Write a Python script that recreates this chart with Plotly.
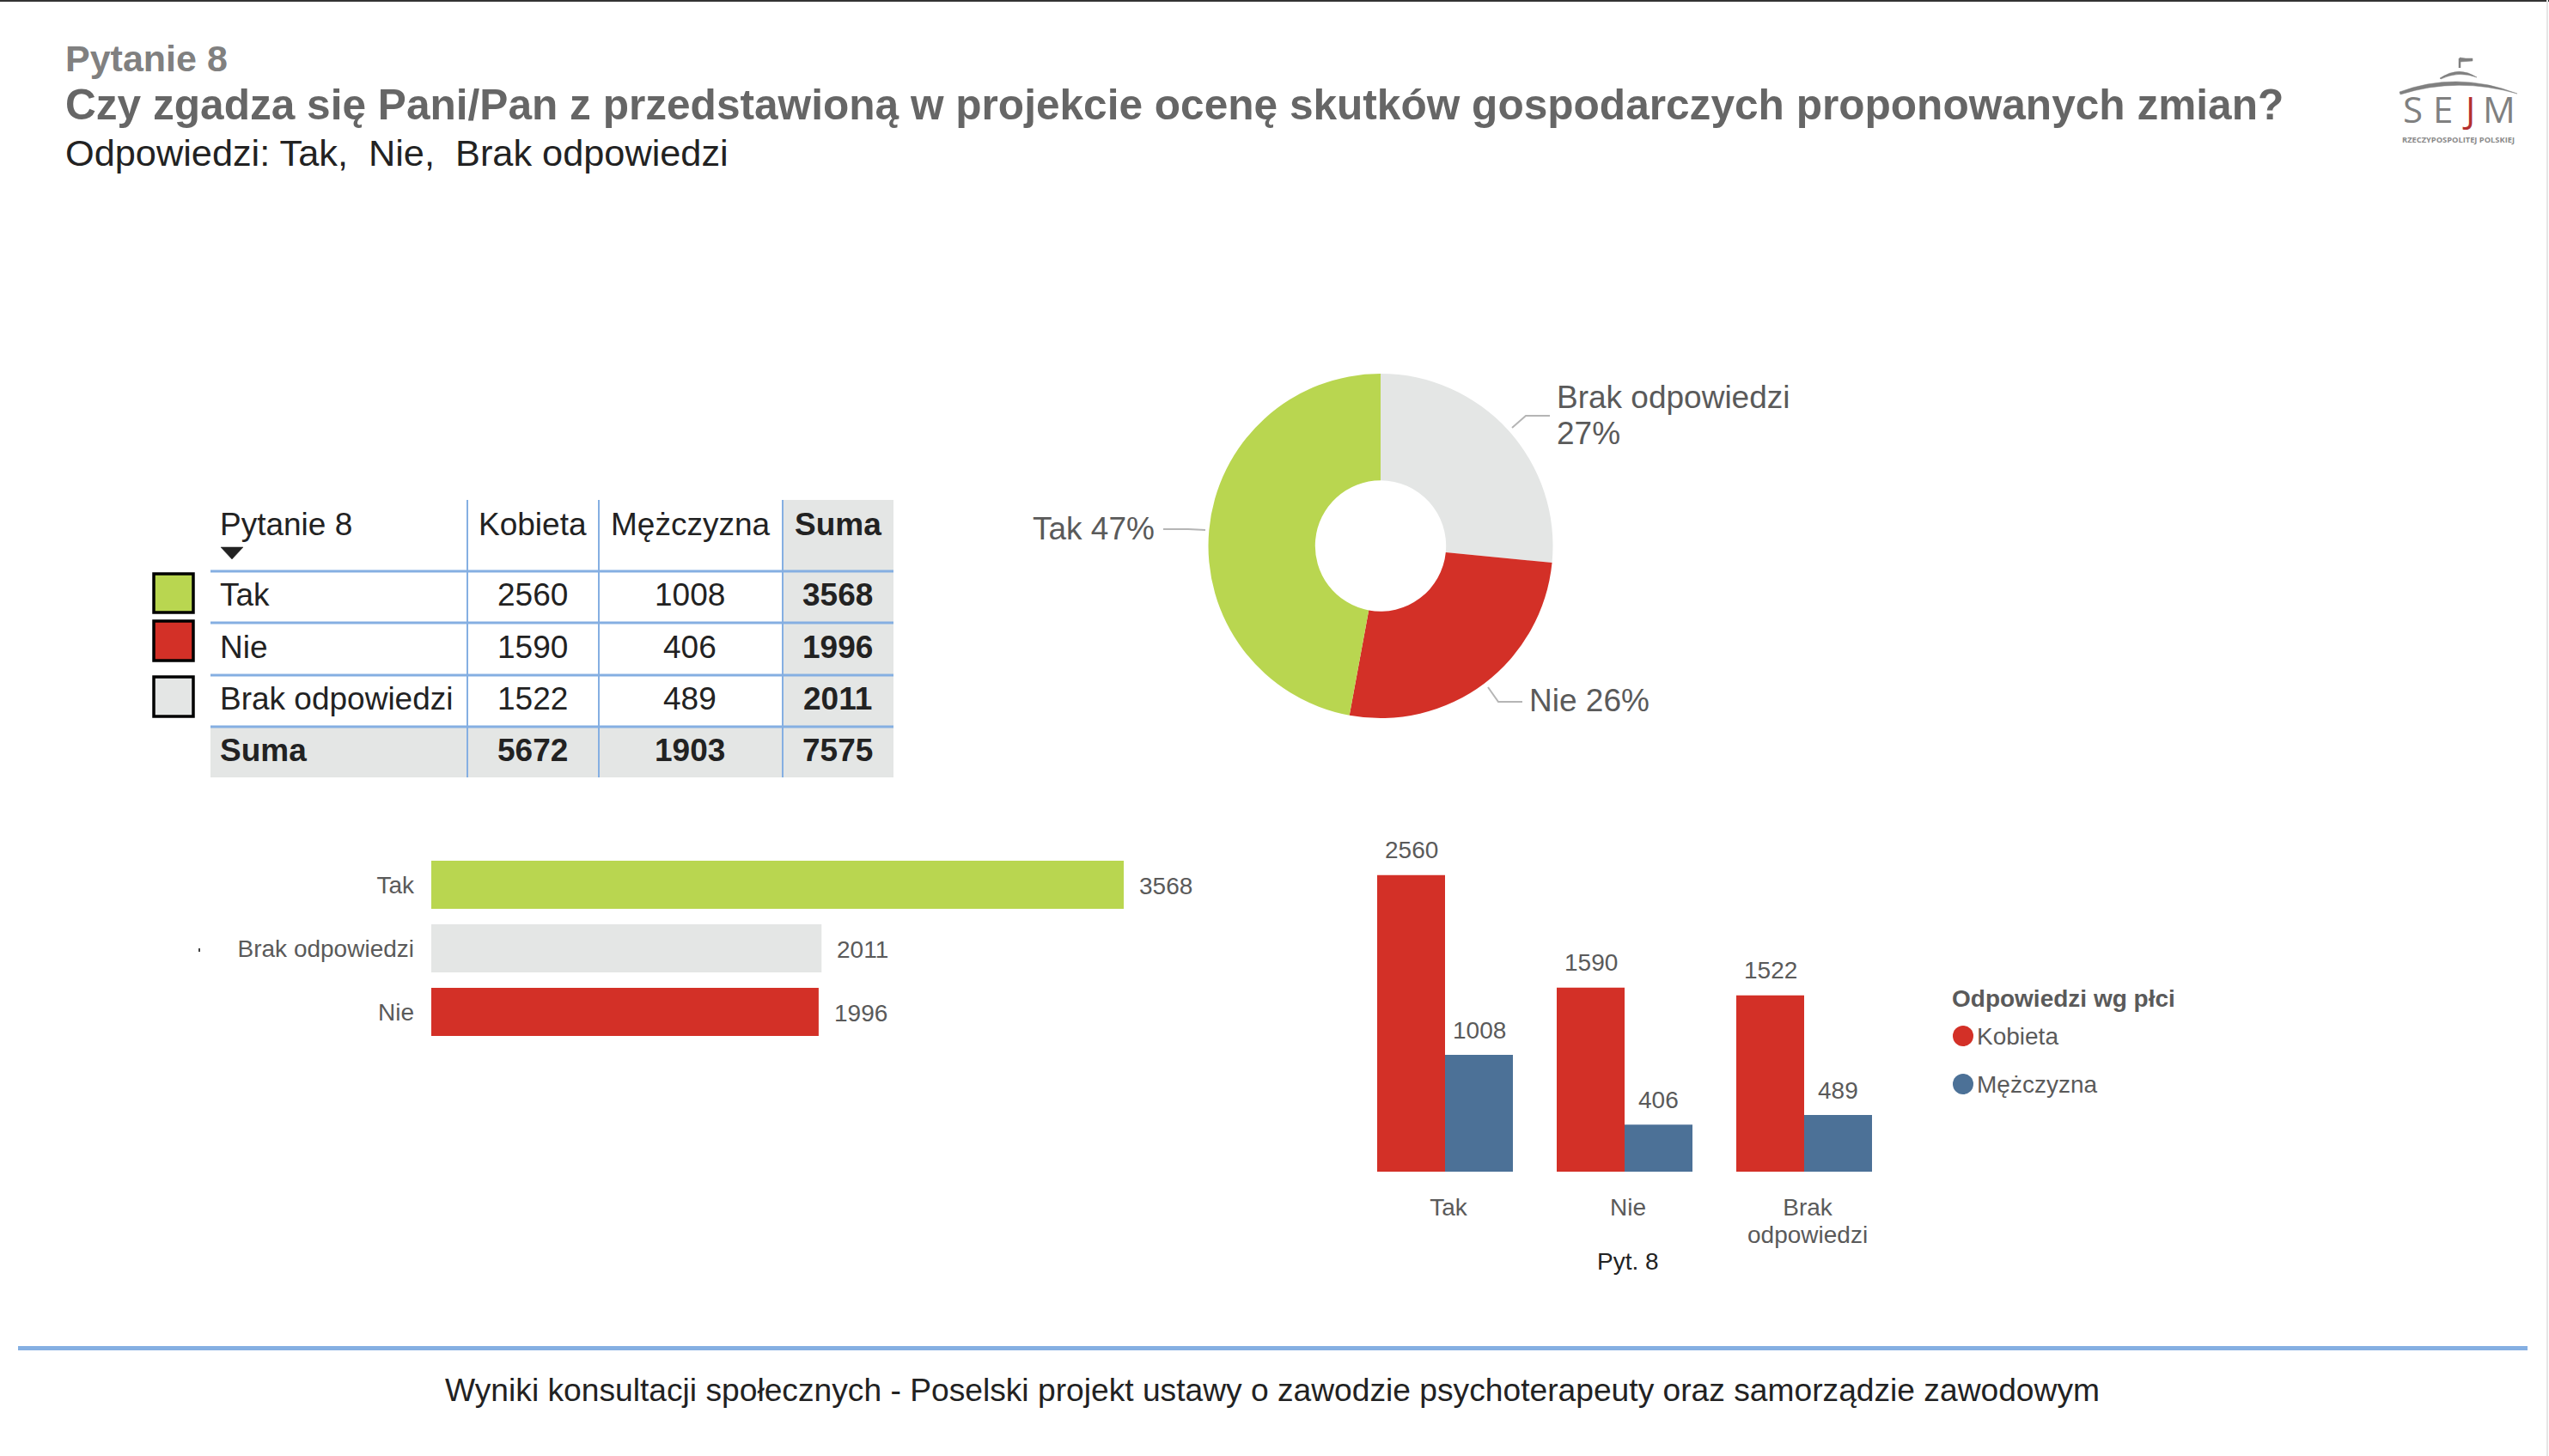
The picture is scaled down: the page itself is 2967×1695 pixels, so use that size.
import plotly.graph_objects as go

W, H = 2967, 1695
FONT = "Liberation Sans"

# ---- data ----
answers = ["Tak", "Nie", "Brak odpowiedzi"]
kobieta = [2560, 1590, 1522]
mezczyzna = [1008, 406, 489]
suma = [3568, 1996, 2011]
suma_row = [5672, 1903, 7575]

pie_labels = ["Brak odpowiedzi", "Nie", "Tak"]
pie_values = [2011, 1996, 3568]

hbar_labels = ["Tak", "Brak odpowiedzi", "Nie"]
hbar_values = [3568, 2011, 1996]

group_ticktext = ["Tak", "Nie", "Brak"]

GREEN, RED, GREY, BLUE = "#B9D650", "#D33027", "#E4E6E5", "#4C7197"
LINE = "#85AFE2"
TXT = "#5A5A5A"
DARK = "#222222"


def px(x):
    return x / W


def py(y):
    return 1 - y / H


annotations = []
shapes = []


def text(x, y, s, size, color=DARK, anchor="left", bold=False, family=FONT):
    annotations.append(dict(
        x=px(x), y=py(y), xref="paper", yref="paper", text=f"<b>{s}</b>" if bold else s,
        showarrow=False, xanchor=anchor, yanchor="middle", borderpad=0, borderwidth=0,
        font=dict(family=family, size=size, color=color)))


def rect(x0, y0, x1, y1, fill, line=None, lw=0):
    shapes.append(dict(type="rect", xref="paper", yref="paper",
                       x0=px(x0), x1=px(x1), y0=py(y0), y1=py(y1), fillcolor=fill,
                       line=dict(color=line or fill, width=lw), layer="below"))


def seg(pts, color, width):
    d = "M " + " L ".join(f"{px(a):.6f},{py(b):.6f}" for a, b in pts)
    shapes.append(dict(type="path", xref="paper", yref="paper", path=d,
                       line=dict(color=color, width=width)))


def fillpath(d_pts, color):
    # d_pts: list of (cmd, [(x, y), ...])
    parts = []
    for cmd, pts in d_pts:
        parts.append(cmd + " " + " ".join(f"{px(a):.6f},{py(b):.6f}" for a, b in pts))
    shapes.append(dict(type="path", xref="paper", yref="paper", path=" ".join(parts) + " Z",
                       fillcolor=color, line=dict(color=color, width=0.5)))


# ---- page furniture ----
rect(0, 0, W, 2, "#333333")
rect(2964, 0, 2966, H, "#E6E6E6")
rect(21, 1567, 2942, 1572, LINE)

text(76, 68, "Pytanie 8", 43, "#808080", bold=True)
text(76, 122, "Czy zgadza się Pani/Pan z przedstawioną w projekcie ocenę skutków gospodarczych proponowanych zmian?",
     49.6, "#666666", bold=True)
text(76, 178, "Odpowiedzi: Tak,  Nie,  Brak odpowiedzi", 43.3, DARK)
text(1481, 1618, "Wyniki konsultacji społecznych - Poselski projekt ustawy o zawodzie psychoterapeuty oraz samorządzie zawodowym",
     37.2, DARK, anchor="center")

# ---- logo ----
fillpath([("M", [(2793, 107)]), ("Q", [(2860, 82), (2930, 109)]), ("Q", [(2860, 89), (2794, 110)])], "#808080")
fillpath([("M", [(2840, 91)]), ("Q", [(2862, 76), (2883, 90)]), ("Q", [(2862, 82), (2841, 92)])], "#808080")
seg([(2863, 79), (2863, 68)], "#808080", 2.5)
fillpath([("M", [(2863, 67)]), ("L", [(2870, 68)]), ("L", [(2878, 68)]), ("L", [(2878, 71)]), ("L", [(2863, 72)])], "#808080")
for lx, ch, col in [(2808, "S", "#808080"), (2843, "E", "#808080"), (2873, "J", "#B53030"), (2909, "M", "#808080")]:
    text(lx, 126, ch, 42, col, anchor="center", family="Open Sans")
text(2861, 163, "RZECZYPOSPOLITEJ POLSKIEJ", 9.3, "#8A8A8A", anchor="center", bold=True, family="Open Sans")

# ---- table ----
col_x = [245, 544, 697, 911, 1040]
row_y = [582, 665, 725, 786, 846, 905]
col_c = [620, 803, 975]
row_c = [693, 753, 813, 873]
rect(col_x[3], row_y[0], col_x[4], row_y[5], GREY)
rect(col_x[0], row_y[4], col_x[4], row_y[5], GREY)
for yy in row_y[1:5]:
    rect(col_x[0], yy - 1.5, col_x[4], yy + 1.5, LINE)
for xx in col_x[1:4]:
    rect(xx - 1, row_y[0], xx + 1, row_y[5], LINE)

text(256, 610, "Pytanie 8", 37)
text(col_c[0], 610, "Kobieta", 37, anchor="center")
text(col_c[1], 610, "Mężczyzna", 37, anchor="center")
text(col_c[2], 610, "Suma", 37, anchor="center", bold=True)
fillpath([("M", [(257, 637)]), ("L", [(283, 637)]), ("L", [(270, 651)])], DARK)

for i, name in enumerate(answers):
    text(256, row_c[i], name, 37)
    text(col_c[0], row_c[i], str(kobieta[i]), 37, anchor="center")
    text(col_c[1], row_c[i], str(mezczyzna[i]), 37, anchor="center")
    text(col_c[2], row_c[i], str(suma[i]), 37, anchor="center", bold=True)
text(256, row_c[3], "Suma", 37, bold=True)
for c, v in zip(col_c, suma_row):
    text(c, row_c[3], str(v), 37, anchor="center", bold=True)

# colour keys next to the table
for (y0, y1), col in zip([(668, 713), (723, 769), (788, 834)], [GREEN, RED, GREY]):
    rect(179, y0, 225, y1, col, "#000000", 3.5)

# ---- pie ----
pie_colors = [GREY, RED, GREEN]
pct = [round(100 * v / sum(pie_values)) for v in pie_values]

text(1812, 462, pie_labels[0], 37, TXT)
text(1812, 505, f"{pct[0]}%", 37, TXT)
text(1780, 815, f"{pie_labels[1]} {pct[1]}%", 37, TXT)
text(1202, 615, f"{pie_labels[2]} {pct[2]}%", 37, TXT)
seg([(1760, 498), (1776, 484), (1804, 484)], "#B5B5B5", 2)
seg([(1354, 616), (1383, 616), (1403, 617)], "#B5B5B5", 2)
seg([(1732, 800), (1744, 817), (1772, 817)], "#B5B5B5", 2)

# ---- horizontal bars ----
annotations_hbar = [dict(x=v, y=c, xref="x", yref="y", text=str(v), showarrow=False,
                         xanchor="left", xshift=16, yshift=-1, yanchor="middle",
                         font=dict(family=FONT, size=28, color=TXT))
                    for c, v in zip(hbar_labels, hbar_values)]
rect(231, 1104, 233, 1108, "#444444")

# ---- grouped bars ----
BAR_HALF = 39.5
annotations_group = []
for t, k, m in zip(answers, kobieta, mezczyzna):
    annotations_group.append(dict(x=t, y=k, xref="x2", yref="y2", text=str(k), showarrow=False,
                                  xshift=-BAR_HALF, yshift=11.5, yanchor="bottom", xanchor="center",
                                  font=dict(family=FONT, size=28, color=TXT)))
    annotations_group.append(dict(x=t, y=m, xref="x2", yref="y2", text=str(m), showarrow=False,
                                  xshift=BAR_HALF, yshift=11.5, yanchor="bottom", xanchor="center",
                                  font=dict(family=FONT, size=28, color=TXT)))
text(2104, 1437, "odpowiedzi", 28, TXT, anchor="center")
text(1895, 1468, "Pyt. 8", 28, DARK, anchor="center")

# legend
text(2272, 1162, "Odpowiedzi wg płci", 28, TXT, bold=True)
for yy, name, col in [(1206, "Kobieta", RED), (1262, "Mężczyzna", BLUE)]:
    shapes.append(dict(type="circle", xref="paper", yref="paper", x0=px(2273), x1=px(2297),
                       y0=py(yy + 12), y1=py(yy - 12), fillcolor=col, line=dict(width=0)))
    text(2301, yy, name, 28, TXT)

# ---- figure ----
fig = go.Figure()
fig.add_trace(go.Pie(labels=pie_labels, values=pie_values, sort=False, direction="clockwise", rotation=0,
                     hole=0.38, textinfo="none", showlegend=False,
                     marker=dict(colors=pie_colors, line=dict(width=0)),
                     domain=dict(x=[px(1406), px(1808)], y=[py(836), py(435)])))
fig.add_trace(go.Bar(orientation="h", x=hbar_values, y=hbar_labels, xaxis="x", yaxis="y",
                     marker=dict(color=[GREEN, GREY, RED], line=dict(width=0)), width=0.757, showlegend=False))
fig.add_trace(go.Bar(name="Kobieta", x=answers, y=kobieta, xaxis="x2", yaxis="y2",
                     marker=dict(color=RED, line=dict(width=0)), showlegend=False))
fig.add_trace(go.Bar(name="Mężczyzna", x=answers, y=mezczyzna, xaxis="x2", yaxis="y2",
                     marker=dict(color=BLUE, line=dict(width=0)), showlegend=False))

fig.update_layout(
    width=W, height=H, autosize=False,
    margin=dict(l=0, r=0, t=0, b=0, pad=0),
    paper_bgcolor="white", plot_bgcolor="white",
    font=dict(family=FONT, color=TXT),
    barmode="group", bargap=0.244, bargroupgap=0,
    xaxis=dict(domain=[px(502), px(1405.6)], range=[0, 4000], visible=False, fixedrange=True),
    yaxis=dict(domain=[py(1215), py(993)], anchor="x", autorange="reversed", type="category",
               showgrid=False, showline=False, zeroline=False, ticks="", ticklabelstandoff=19,
               tickfont=dict(family=FONT, size=28, color=TXT), automargin=False),
    xaxis2=dict(domain=[px(1577.5), px(2204.5)], anchor="y2", type="category", showgrid=False, showline=False,
                zeroline=False, ticks="", ticklabelstandoff=22, ticklabelshift=4,
                tickmode="array", tickvals=answers, ticktext=group_ticktext,
                tickfont=dict(family=FONT, size=28, color=TXT), automargin=False),
    yaxis2=dict(domain=[py(1364), py(986.5)], anchor="x2", range=[0, 2800], visible=False),
    shapes=shapes,
    annotations=annotations + annotations_hbar + annotations_group,
)

fig.write_html("out.html", config=dict(displayModeBar=False),
               post_script="document.body.style.margin='0';document.documentElement.style.overflow='hidden';")
